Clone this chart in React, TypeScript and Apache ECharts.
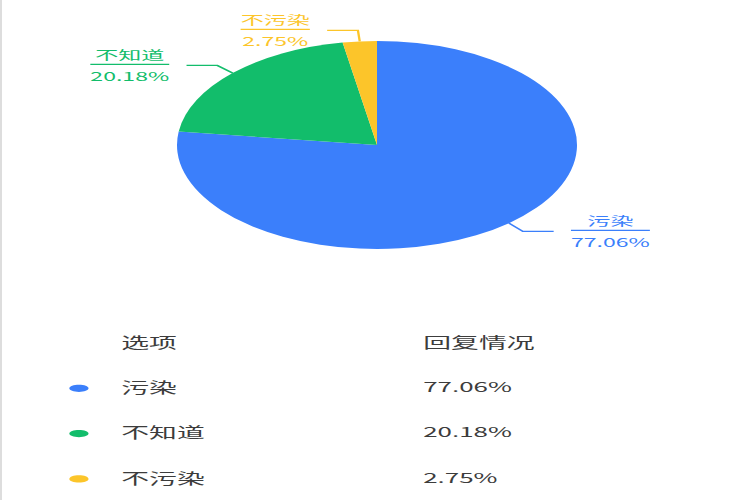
import React, { useEffect, useRef } from "react";
import * as echarts from "echarts";

const categories = ["污染", "不知道", "不污染"];
const values = [77.06, 20.18, 2.75];
const percentLabels = ["77.06%", "20.18%", "2.75%"];
const colors = ["#3b7ffb", "#12bd6b", "#fcc52a"];
const tableHeaders = ["选项", "回复情况"];

const FONT = "'Noto Sans CJK SC', 'Noto Sans', sans-serif";
const BASE_W = 390;
const SCALE_X = 750 / BASE_W;

export default function App() {
  const ref = useRef<HTMLDivElement>(null);
  useEffect(() => {
    if (!ref.current) return;
    const chart = echarts.init(ref.current, undefined, { renderer: "svg" });
    const data = categories.map((name, i) => ({
      name,
      value: values[i],
      itemStyle: { color: colors[i] },
      label: {
        color: colors[i],
        rich: {
          name: { color: colors[i], fontSize: 12, lineHeight: 20, fontFamily: FONT, align: "center" },
          hr: { borderColor: colors[i], borderWidth: 1.2, width: "100%", height: 0 },
          per: { color: colors[i], fontSize: 12, lineHeight: 22, fontFamily: FONT, align: "center" },
        },
      },
      labelLine: { lineStyle: { color: colors[i], width: 1.2 } },
    }));

    const graphics: any[] = [];
    const col1 = 62;
    const col2 = 219;
    const rowY0 = 343;
    const rowGap = 45.3;
    const textColor = "#3c3c3c";
    graphics.push({
      type: "text",
      left: col1,
      top: rowY0 - 9,
      style: { text: tableHeaders[0], fill: textColor, font: `14.5px ${FONT}` },
    });
    graphics.push({
      type: "text",
      left: col2,
      top: rowY0 - 9,
      style: { text: tableHeaders[1], fill: textColor, font: `14.5px ${FONT}` },
    });
    categories.forEach((c, i) => {
      const y = rowY0 + rowGap * (i + 1);
      graphics.push({
        type: "ellipse",
        shape: { cx: 40, cy: y, rx: 5, ry: 3.6 },
        style: { fill: colors[i] },
      });
      graphics.push({
        type: "text",
        left: col1,
        top: y - 9,
        style: { text: c, fill: textColor, font: `14.5px ${FONT}` },
      });
      graphics.push({
        type: "text",
        left: col2,
        top: y - 9,
        style: { text: percentLabels[i], fill: textColor, font: `13.5px ${FONT}` },
      });
    });

    chart.setOption({
      animation: false,
      graphic: graphics,
      series: [
        {
          type: "pie",
          center: [BASE_W / 2, 145],
          radius: [0, 104],
          startAngle: 90,
          clockwise: true,
          data,
          label: {
            show: true,
            position: "outside",
            formatter: "{name|{b}}\n{hr|}\n{per|{c}%}",
            padding: [0, 6],
            distanceToLabelLine: 3,
          },
          labelLine: { show: true, length: 11, length2: 16 },
        },
      ],
    });
    return () => chart.dispose();
  }, []);

  return (
    <div
      style={{
        position: "fixed",
        left: 0,
        top: 0,
        width: 750,
        height: 500,
        overflow: "hidden",
        background: "#fff",
        borderLeft: "2px solid #ddd",
        boxSizing: "border-box",
      }}
    >
      <div
        ref={ref}
        style={{
          width: BASE_W,
          height: 500,
          transform: `scaleX(${SCALE_X})`,
          transformOrigin: "0 0",
        }}
      />
    </div>
  );
}
